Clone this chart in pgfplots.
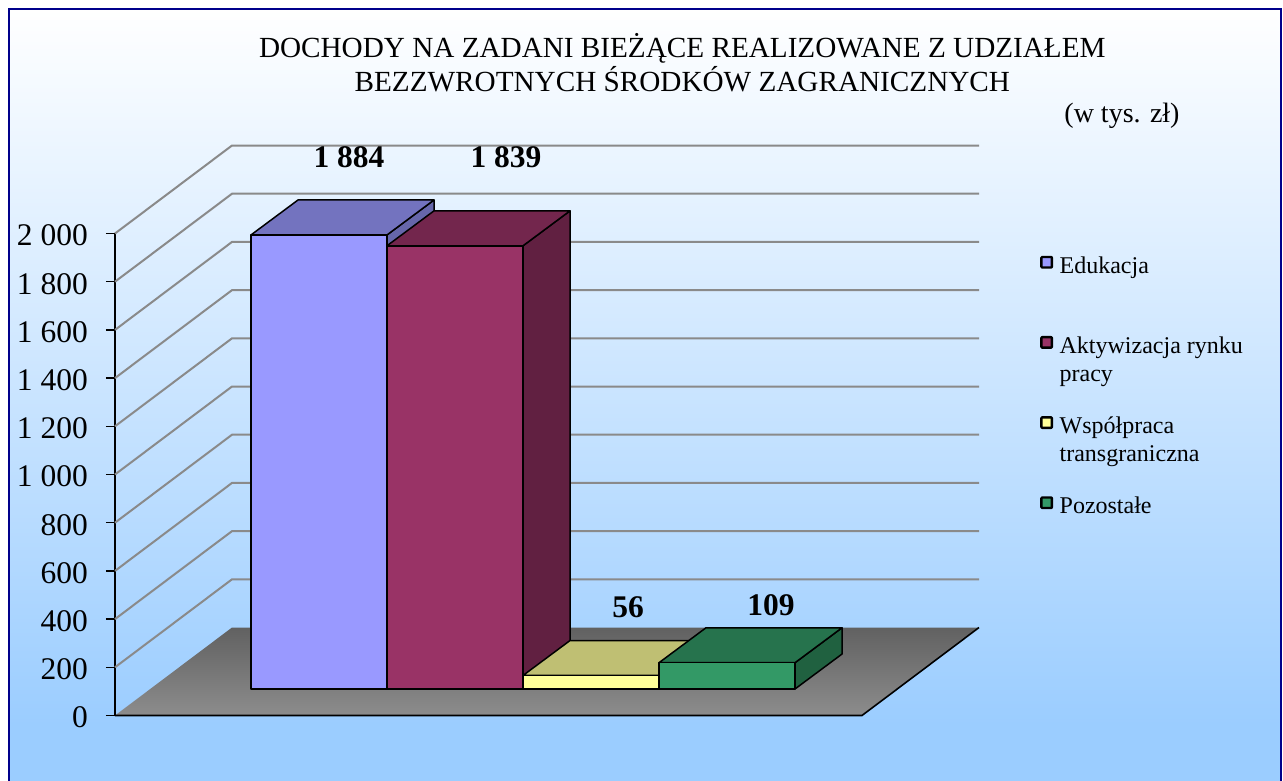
\documentclass[border=0pt]{standalone}
\usepackage{pgfplots}
\pgfplotsset{compat=1.18}
\usepackage{fontspec}
\setmainfont{Liberation Serif}
\definecolor{frameblue}{HTML}{00008B}
\definecolor{bgbottom}{HTML}{9BCDFF}
\definecolor{gridgray}{HTML}{8A8A8A}
\definecolor{aF}{RGB}{153,153,255}\definecolor{aT}{RGB}{115,115,191}\definecolor{aS}{RGB}{102,102,170}
\definecolor{bF}{RGB}{153,51,102}\definecolor{bT}{RGB}{115,38,77}\definecolor{bS}{RGB}{97,32,65}
\definecolor{cF}{RGB}{255,255,153}\definecolor{cT}{RGB}{191,191,115}\definecolor{cS}{RGB}{170,170,102}
\definecolor{dF}{RGB}{51,153,102}\definecolor{dT}{RGB}{38,115,77}\definecolor{dS}{RGB}{32,97,64}
\pgfplotsset{
  face/.style={draw=black,line width=1.5pt,line join=round,forget plot,y filter/.expression={y+110}},
  front/.style={draw=black,line width=1.5pt,line join=round,y filter/.expression={y+110}},
  gl/.style={draw=gridgray,line width=2pt,forget plot},
}
\begin{document}
\begin{tikzpicture}
\useasboundingbox (-115pt,-65.5pt) rectangle (1168pt,715.5pt);
\fill[white] (-115pt,-65.5pt) rectangle (1168pt,715.5pt);
\fill[bgbottom] (-106pt,-65.5pt) rectangle (1166pt,-10pt);
\shade[top color=white,bottom color=bgbottom] (-106pt,-10pt) rectangle (1166pt,706.5pt);
\draw[frameblue,line width=2pt] (-106pt,-70pt) -- (-106pt,706.5pt) -- (1166pt,706.5pt) -- (1166pt,-70pt);
\begin{axis}[
  scale only axis,width=747pt,height=482pt,
  xmin=115,xmax=862,ymin=0,ymax=2000,clip=false,
  axis lines*=left,axis line style={line width=1.8pt,black},
  xtick=\empty,ytick={0,200,...,2000},
  tick style={black,line width=1.3pt},major tick length=9pt,tick align=outside,
  yticklabel style={font=\fontsize{31.5}{36}\selectfont,/pgf/number format/assume math mode=true,inner sep=0pt,xshift=-18pt,yshift=-2pt},
  /pgf/number format/1000 sep={\ },
  title={DOCHODY NA ZADANI BIEŻĄCE REALIZOWANE Z UDZIAŁEM\\BEZZWROTNYCH ŚRODKÓW ZAGRANICZNYCH},
  title style={at={(0.7595,1.3425)},anchor=center,align=center,font=\fontsize{29.2}{34}\selectfont},
  legend style={at={(axis cs:1040,1914)},anchor=north west,draw=none,fill=none,inner sep=0pt,row sep=58pt,
    font=\fontsize{24}{28}\selectfont},
  legend cell align=left,
  legend image code/.code={\path (16pt,0pt);\draw[#1,line width=2.4pt,rounded corners=0.8pt] (0.5pt,-2pt) rectangle (11pt,8.5pt);},
]
% floor
\addplot[forget plot,draw=none,shade,top color=black!62,bottom color=black!45] coordinates {(115,0)(232,365)(979,365)(862,0)} -- cycle;
\addplot[forget plot,draw=black,line width=1.6pt] coordinates {(115,0)(862,0)(979,365)};
% walls
\addplot[gl] coordinates {(115,200)(232,565)(979,565)};
\addplot[gl] coordinates {(115,400)(232,765)(979,765)};
\addplot[gl] coordinates {(115,600)(232,965)(979,965)};
\addplot[gl] coordinates {(115,800)(232,1165)(979,1165)};
\addplot[gl] coordinates {(115,1000)(232,1365)(979,1365)};
\addplot[gl] coordinates {(115,1200)(232,1565)(979,1565)};
\addplot[gl] coordinates {(115,1400)(232,1765)(979,1765)};
\addplot[gl] coordinates {(115,1600)(232,1965)(979,1965)};
\addplot[gl] coordinates {(115,1800)(232,2165)(979,2165)};
\addplot[gl] coordinates {(115,2000)(232,2365)(979,2365)};
% Edukacja
\addplot[face,fill=aS] coordinates {(387,0)(434,145)(434,2029)(387,1884)} -- cycle;
\addplot[face,fill=aT] coordinates {(251,1884)(298,2029)(434,2029)(387,1884)} -- cycle;
\addplot[front,fill=aF] coordinates {(251,0)(387,0)(387,1884)(251,1884)} -- cycle;
\addlegendentry{\parbox[t]{190pt}{Edukacja}}
% Aktywizacja
\addplot[face,fill=bS] coordinates {(523,0)(570,145)(570,1984)(523,1839)} -- cycle;
\addplot[face,fill=bT] coordinates {(387,1839)(434,1984)(570,1984)(523,1839)} -- cycle;
\addplot[front,fill=bF] coordinates {(387,0)(523,0)(523,1839)(387,1839)} -- cycle;
\addlegendentry{\parbox[t]{190pt}{Aktywizacja rynku\\pracy}}
% Wspolpraca
\addplot[face,fill=cS] coordinates {(659,0)(706,145)(706,201)(659,56)} -- cycle;
\addplot[face,fill=cT] coordinates {(523,56)(570,201)(706,201)(659,56)} -- cycle;
\addplot[front,fill=cF] coordinates {(523,0)(659,0)(659,56)(523,56)} -- cycle;
\addlegendentry{\parbox[t]{190pt}{Współpraca\\transgraniczna}}
% Pozostale
\addplot[face,fill=dS] coordinates {(795,0)(842,145)(842,254)(795,109)} -- cycle;
\addplot[face,fill=dT] coordinates {(659,109)(706,254)(842,254)(795,109)} -- cycle;
\addplot[front,fill=dF] coordinates {(659,0)(795,0)(795,109)(659,109)} -- cycle;
\addlegendentry{\parbox[t]{190pt}{Pozostałe}}
% labels
\node[font=\fontsize{31.5}{36}\selectfont\bfseries] at (axis cs:349,2317) {1 884};
\node[font=\fontsize{31.5}{36}\selectfont\bfseries] at (axis cs:506,2317) {1 839};
\node[font=\fontsize{31.5}{36}\selectfont\bfseries] at (axis cs:628,450) {56};
\node[font=\fontsize{31.5}{36}\selectfont\bfseries] at (axis cs:771,459) {109};
\node[font=\fontsize{28}{34}\selectfont] at (axis cs:1122,2487) {(w tys. zł)};
\end{axis}
\end{tikzpicture}
\end{document}
